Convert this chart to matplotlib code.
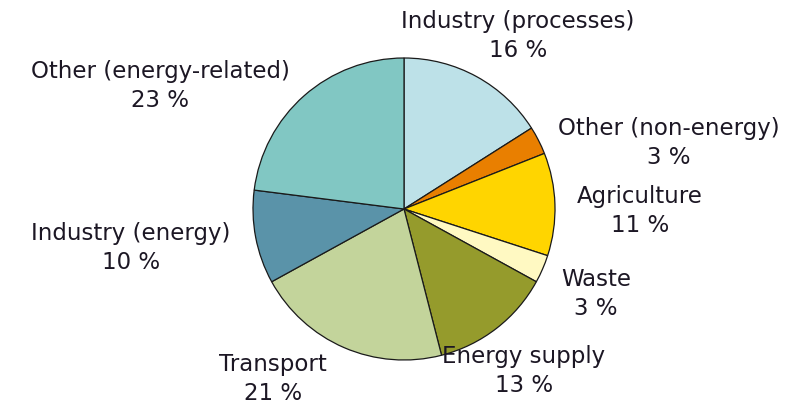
import matplotlib.pyplot as plt

# Anteil der Treibhausgasemissionen nach Sektor (%)
sektoren = ["Industry (processes)", "Other (non-energy)", "Agriculture", "Waste",
            "Energy supply", "Transport", "Industry (energy)", "Other (energy-related)"]
anteile = [16, 3, 11, 3, 13, 21, 10, 23]

farben = ["#BDE1E8", "#E97F00", "#FFD500", "#FFF9C2",
          "#959B2C", "#C3D49B", "#5A93A9", "#81C7C3"]

# Position der Beschriftungen (Pixel, Ursprung oben links)
label_pos = [(518, 36), (669, 143), (640, 211), (596, 294),
             (524, 371), (273, 379), (131, 248), (160, 86)]

W, H = 796, 406
fig = plt.figure(figsize=(W / 100, H / 100), dpi=100)
ax = fig.add_axes([0, 0, 1, 1])

ax.pie(
    anteile,
    colors=farben,
    startangle=90,
    counterclock=False,
    center=(404, H - 210),
    radius=151,
    wedgeprops=dict(edgecolor="#1a1a1a", linewidth=0.9),
)

for nome, pct, (x, y) in zip(sektoren, anteile, label_pos):
    ax.text(x, H - y, f"{nome}\n{pct} %", ha="center", va="center",
            fontsize=16.5, color="#1c1724", linespacing=1.35,
            family="DejaVu Sans")

ax.set_xlim(0, W)
ax.set_ylim(0, H)
ax.set_aspect("equal")
ax.axis("off")

fig.savefig("out.png", dpi=100)
